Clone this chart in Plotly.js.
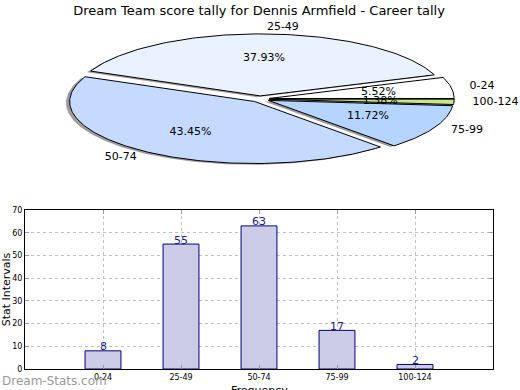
<!DOCTYPE html>
<html>
<head>
<meta charset="utf-8">
<script src="https://cdn.plot.ly/plotly-3.0.1.min.js"></script>
<style>html,body{margin:0;padding:0;background:#fff;}#chart{width:520px;height:390px;}</style>
</head>
<body>
<div id="chart"></div>
<script>
// ---- data ----
const categories = ['0-24', '25-49', '50-74', '75-99', '100-124'];
const counts = [8, 55, 63, 17, 2];
const pieColors = ['#ffffff', '#eaf1ff', '#c6d9ff', '#b5d4ff', '#c8e68a'];
const barColor = '#ccccE6';
const barEdge = '#000080';
const chartTitle = 'Dream Team score tally for Dennis Armfield - Career tally';
const yTitle = 'Stat Intervals';
const xTitle = 'Frequency';
const watermark = 'Dream-Stats.com';

// ---- pie geometry (in pie-axis data units, unit radius) ----
const explode = 0.05, shadowOff = -0.02, labelDist = 1.1, pctDist = 0.6;
const total = counts.reduce((a, b) => a + b, 0);
const traces = [];
const slices = [];
let a0 = 0;
counts.forEach((v, i) => {
  const span = v / total * 360;
  const a1 = a0 + span;
  const am = (a0 + a1) / 2 * Math.PI / 180;
  const ox = explode * Math.cos(am), oy = explode * Math.sin(am);
  const xs = [ox], ys = [oy];
  const n = Math.max(2, Math.ceil(span));
  for (let k = 0; k <= n; k++) {
    const t = (a0 + span * k / n) * Math.PI / 180;
    xs.push(ox + Math.cos(t)); ys.push(oy + Math.sin(t));
  }
  xs.push(ox); ys.push(oy);
  slices.push({xs, ys, am, ox, oy, i, v});
  a0 = a1;
});
// shadows
slices.forEach(s => {
  traces.push({
    type: 'scatter', mode: 'lines', xaxis: 'x2', yaxis: 'y2',
    x: s.xs.map(x => x + shadowOff), y: s.ys.map(y => y + shadowOff),
    fill: 'toself', fillcolor: 'rgba(60,60,60,0.5)', line: {width: 0},
    hoverinfo: 'skip'
  });
});
// slices
slices.forEach(s => {
  traces.push({
    type: 'scatter', mode: 'lines', xaxis: 'x2', yaxis: 'y2',
    x: s.xs, y: s.ys, fill: 'toself', fillcolor: pieColors[s.i],
    line: {color: '#000000', width: 1}, name: categories[s.i],
    hoverinfo: 'name'
  });
});
// labels
slices.forEach(s => {
  const lx = s.ox + labelDist * Math.cos(s.am), ly = s.oy + labelDist * Math.sin(s.am);
  traces.push({
    type: 'scatter', mode: 'text', xaxis: 'x2', yaxis: 'y2',
    x: [lx], y: [ly], text: [categories[s.i]],
    textposition: lx > 0 ? 'middle right' : 'middle left',
    textfont: {family: 'DejaVu Sans', size: 11, color: '#000'}, hoverinfo: 'skip', cliponaxis: false
  });
  traces.push({
    type: 'scatter', mode: 'text', xaxis: 'x2', yaxis: 'y2',
    x: [s.ox + pctDist * Math.cos(s.am)], y: [s.oy + pctDist * Math.sin(s.am)],
    text: [(s.v / total * 100).toFixed(2) + '%'], textposition: 'middle center',
    textfont: {family: 'DejaVu Sans', size: 11, color: '#000'}, hoverinfo: 'skip', cliponaxis: false
  });
});

// ---- bar chart ----
traces.push({
  type: 'bar', x: categories, y: counts, width: 0.46,
  marker: {color: barColor, line: {color: barEdge, width: 1}},
  hoverinfo: 'x+y'
});

const W = 520, H = 390;
const annotations = categories.map((c, i) => ({
  x: c, y: counts[i], xref: 'x', yref: 'y', text: String(counts[i]),
  showarrow: false, yanchor: 'middle', yshift: 4,
  font: {family: 'DejaVu Sans', size: 11, color: '#1a1a8c'}
}));
annotations.push({
  text: watermark, xref: 'paper', yref: 'paper', x: 0, xanchor: 'left',
  y: 9 / H, yanchor: 'middle', showarrow: false,
  font: {family: 'DejaVu Sans', size: 12, color: '#999999'}
});
// x-axis title (sits partly below the canvas edge, as in the reference)
annotations.push({
  text: xTitle, xref: 'x domain', yref: 'paper', x: 0.5, xanchor: 'center',
  y: 8 / H, yanchor: 'top', showarrow: false,
  font: {family: 'DejaVu Sans', size: 11, color: '#000'}
});

const layout = {
  width: W, height: H,
  margin: {l: 0, r: 0, t: 0, b: 0},
  paper_bgcolor: '#ffffff', plot_bgcolor: 'rgba(0,0,0,0)',
  showlegend: false,
  font: {family: 'DejaVu Sans', color: '#000'},
  title: {text: chartTitle, x: 259 / W, xanchor: 'center', y: 1 - 10 / H, yanchor: 'middle',
          font: {family: 'DejaVu Sans', size: 13, color: '#000'}},
  xaxis2: {domain: [0, 1], range: [-260 / 185, 260 / 185], visible: false, fixedrange: true, anchor: 'y2'},
  yaxis2: {domain: [0.5, 1], range: [-96 / 62, 99 / 62], visible: false, fixedrange: true, anchor: 'x2'},
  xaxis: {
    domain: [25 / W, 493 / W], anchor: 'y', type: 'category', range: [-1, 5],
    showline: true, linecolor: '#000', linewidth: 1, mirror: 'ticks',
    ticks: 'inside', ticklen: 4, tickcolor: '#999',
    showgrid: true, gridcolor: '#c0c0c0', griddash: 'dot', gridwidth: 1,
    tickfont: {family: 'DejaVu Sans', size: 8, color: '#000'},
    automargin: false, fixedrange: true
  },
  yaxis: {
    domain: [21 / H, 180 / H], anchor: 'x', range: [0, 70], dtick: 10,
    showline: true, linecolor: '#000', linewidth: 1, mirror: 'ticks',
    ticks: 'inside', ticklen: 4, tickcolor: '#999',
    showgrid: true, gridcolor: '#c0c0c0', griddash: 'dot', gridwidth: 1, zeroline: false,
    tickfont: {family: 'DejaVu Sans', size: 8, color: '#000'},
    title: {text: yTitle, font: {family: 'DejaVu Sans', size: 11, color: '#000'}, standoff: 3},
    automargin: false, fixedrange: true
  },
  annotations: annotations
};
Plotly.newPlot('chart', traces, layout, {displayModeBar: false, staticPlot: true});
</script>
</body>
</html>
